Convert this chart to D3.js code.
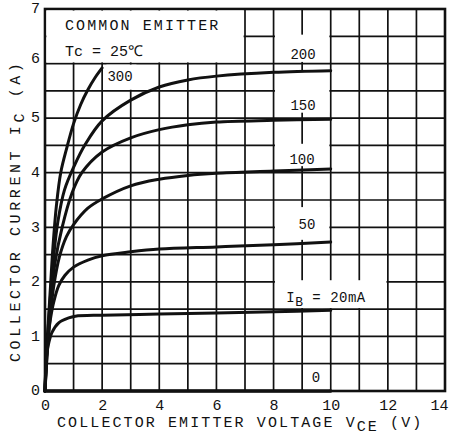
<!DOCTYPE html>
<html><head><meta charset="utf-8">
<script src="https://cdn.jsdelivr.net/npm/d3@7"></script>
<style>
html,body{margin:0;padding:0;background:#fff;}
svg{display:block;}
text{font-family:"Liberation Mono","DejaVu Sans Mono",monospace;fill:#111;}
</style></head>
<body>
<svg id="chart" width="450" height="439"></svg>
<script>
// ---- data ----
const xTicks = [0, 2, 4, 6, 8, 10, 12, 14];
const yTicks = [0, 1, 2, 3, 4, 5, 6, 7];
const seriesNames = ["300", "200", "150", "100", "50", "20", "0"];
const vce300 = [0, 0.06, 0.12, 0.19, 0.28, 0.4, 0.55, 0.77, 1.0, 1.25, 1.5, 1.75, 2.0];
const ic300  = [0, 0.8, 1.3, 1.9, 2.65, 3.4, 4.0, 4.47, 4.9, 5.25, 5.52, 5.74, 5.92];
const vce200 = [0, 0.06, 0.13, 0.2, 0.3, 0.45, 0.68, 1.02, 1.41, 2.0, 3.0, 4.0, 5.0, 6, 8, 10];
const ic200  = [0, 0.7, 1.3, 1.8, 2.45, 3.1, 3.68, 4.12, 4.52, 4.95, 5.33, 5.57, 5.7, 5.77, 5.84, 5.87];
const vce150 = [0, 0.07, 0.15, 0.22, 0.35, 0.6, 0.94, 1.29, 2.0, 3.0, 4.0, 5.0, 6, 8, 10];
const ic150  = [0, 0.7, 1.3, 1.75, 2.35, 3.0, 3.62, 4.0, 4.38, 4.64, 4.79, 4.88, 4.93, 4.96, 4.98];
const vce100 = [0, 0.08, 0.17, 0.3, 0.5, 0.75, 1.0, 1.5, 2.0, 3.0, 4, 5, 6, 8, 10];
const ic100  = [0, 0.7, 1.3, 1.9, 2.45, 2.83, 3.05, 3.35, 3.52, 3.76, 3.88, 3.95, 3.99, 4.03, 4.07];
const vce50  = [0, 0.05, 0.11, 0.2, 0.3, 0.48, 0.7, 1.0, 1.5, 2.0, 3.0, 4, 6, 8, 10];
const ic50   = [0, 0.6, 1.0, 1.35, 1.62, 1.93, 2.12, 2.27, 2.4, 2.48, 2.55, 2.6, 2.64, 2.68, 2.73];
const vce20  = [0, 0.03, 0.07, 0.14, 0.24, 0.48, 0.83, 1.06, 2, 4, 6, 8, 10];
const ic20   = [0, 0.45, 0.72, 0.9, 1.07, 1.25, 1.34, 1.37, 1.39, 1.41, 1.43, 1.45, 1.48];
const vce0   = [0, 10];
const ic0    = [0, 0];

const series = [
  {name: "300", v: vce300, i: ic300},
  {name: "200", v: vce200, i: ic200},
  {name: "150", v: vce150, i: ic150},
  {name: "100", v: vce100, i: ic100},
  {name: "50",  v: vce50,  i: ic50},
  {name: "20",  v: vce20,  i: ic20},
  {name: "0",   v: vce0,   i: ic0}
];

// ---- layout ----
const svg = d3.select("#chart");
const x = d3.scaleLinear().domain([0, 14]).range([45, 445]);
const y = d3.scaleLinear().domain([0, 7]).range([391, 9]);

// grid
const g = svg.append("g");
g.selectAll("line.v").data(d3.range(0, 15, 1)).enter().append("line")
  .attr("x1", d => x(d)).attr("x2", d => x(d))
  .attr("y1", y(0)).attr("y2", y(7))
  .attr("stroke", "#111").attr("stroke-width", 1.7);
g.selectAll("line.h").data(d3.range(0, 7.01, 0.5)).enter().append("line")
  .attr("x1", x(0)).attr("x2", x(14))
  .attr("y1", d => y(d)).attr("y2", d => y(d))
  .attr("stroke", "#111").attr("stroke-width", 1.7);
g.append("rect").attr("x", x(0)).attr("y", y(7))
  .attr("width", x(14) - x(0)).attr("height", y(0) - y(7))
  .attr("fill", "none").attr("stroke", "#111").attr("stroke-width", 2.6);

// white boxes (legend and curve labels)
const boxes = [
  [0, 7, 6, 7],
  [2.15, 3.2, 5.52, 5.98],
  [8, 10, 6.03, 6.53],
  [8, 10, 5.1, 5.85],
  [8, 10, 4.12, 4.53],
  [8, 10, 2.77, 3.37],
  [8, 12, 1.52, 2.03],
  [9, 10, 0.02, 0.48]
];
svg.append("g").selectAll("rect").data(boxes).enter().append("rect")
  .attr("x", d => x(d[0]) + (d[0] % 1 === 0 ? 1.4 : 0))
  .attr("width", d => x(d[1]) - x(d[0]) - (d[0] % 1 === 0 ? 1.4 : 0) - (d[1] % 1 === 0 ? 1.4 : 0))
  .attr("y", d => y(d[3]) + (d[3] === 7 ? 1.6 : 0))
  .attr("height", d => y(d[2]) - y(d[3]) - (d[3] === 7 ? 1.6 : 0) - (d[2] === 6 ? 1.2 : 0))
  .attr("fill", "#fff");

// curves
const line = d3.line().x(d => x(d[0])).y(d => y(d[1])).curve(d3.curveCatmullRom.alpha(0.5));
svg.append("g").selectAll("path").data(series).enter().append("path")
  .attr("d", s => line(s.v.map((v, k) => [v, s.i[k]])))
  .attr("fill", "none").attr("stroke", "#111")
  .attr("stroke-width", s => s.name === "0" ? 3.4 : 3)
  .attr("stroke-linecap", "round").attr("stroke-linejoin", "round");

// axes tick labels
const xAxis = d3.axisBottom(x).tickValues(xTicks).tickFormat(d3.format("d")).tickSize(0).tickPadding(8);
const ax = svg.append("g").attr("transform", `translate(0,${y(0)})`).call(xAxis);
ax.select(".domain").remove();
ax.selectAll("text").attr("font-size", 15).attr("font-family", "Liberation Mono").attr("fill", "#111")
  .attr("dx", d => d === 14 ? -6 : 0);
const yAxis = d3.axisLeft(y).tickValues(yTicks).tickFormat(d3.format("d")).tickSize(0).tickPadding(5);
const ay = svg.append("g").attr("transform", `translate(${x(0)},0)`).call(yAxis);
ay.select(".domain").remove();
ay.selectAll("text").attr("font-size", 15).attr("font-family", "Liberation Mono").attr("fill", "#111")
  .attr("dy", d => d === 6 ? "-0.1em" : "0.25em");

// axis titles
const xt = svg.append("text").attr("x", 57).attr("y", 427)
  .attr("font-size", 15).attr("letter-spacing", 2.1);
xt.append("tspan").text("COLLECTOR EMITTER VOLTAGE V");
xt.append("tspan").attr("dy", 4).text("CE");
xt.append("tspan").attr("dy", -4).text(" (V)");

const yt = svg.append("text").attr("transform", "translate(20,362) rotate(-90)")
  .attr("font-size", 15).attr("letter-spacing", 3.6);
yt.append("tspan").text("COLLECTOR CURRENT I");
yt.append("tspan").attr("dy", 4).text("C");
yt.append("tspan").attr("dy", -4).text(" (A)");

// legend text
svg.append("text").attr("x", 65).attr("y", 30).attr("font-size", 15)
  .attr("letter-spacing", 2.1).text("COMMON EMITTER");
svg.append("text").attr("x", 65).attr("y", 56).attr("font-size", 15)
  .attr("letter-spacing", 0).text("Tc = 25℃");

// curve labels
const lab = [
  ["300", 120, 81], ["200", 303, 59], ["150", 303, 110], ["100", 302, 164],
  ["50", 307, 229], ["0", 316, 382]
];
svg.append("g").selectAll("text").data(lab).enter().append("text")
  .attr("x", d => d[1]).attr("y", d => d[2]).attr("text-anchor", "middle")
  .attr("font-size", 14).text(d => d[0]);
const ib = svg.append("text").attr("x", 326).attr("y", 302).attr("text-anchor", "middle")
  .attr("font-size", 14).attr("letter-spacing", 0.5);
ib.append("tspan").text("I");
ib.append("tspan").attr("dy", 4).attr("font-size", 13).text("B");
ib.append("tspan").attr("dy", -4).text(" = 20mA");
</script>
</body></html>
